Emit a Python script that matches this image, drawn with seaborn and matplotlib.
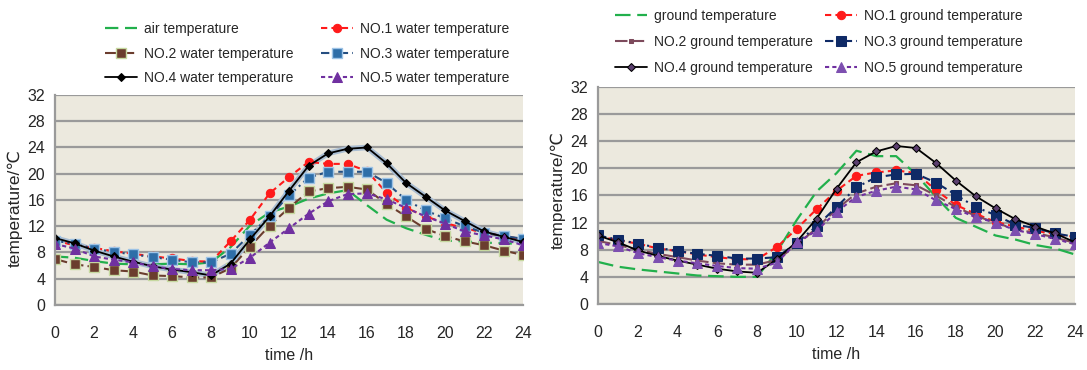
import matplotlib
matplotlib.use('agg')
import numpy as np
import matplotlib.pyplot as plt
import seaborn as sns

hours = list(range(25))

# left panel: air / water temperature
air_temp = [7.4, 7.2, 6.7, 6.3, 6.2, 6.2, 6.3, 6.2, 6.5, 8.8, 12.1, 14.1, 15.0, 16.2,
            17.0, 17.5, 15.2, 13.0, 11.7, 10.7, 9.8, 9.7, 9.5, 9.4, 9.3]
water1 = [9.8, 9.1, 8.7, 8.2, 7.8, 7.4, 7.1, 6.7, 6.6, 9.7, 13.0, 17.0, 19.5, 21.8,
          21.5, 21.5, 20.4, 17.1, 14.8, 13.5, 12.5, 11.7, 11.0, 10.5, 10.0]
water2 = [7.0, 6.2, 5.8, 5.3, 5.1, 4.5, 4.4, 4.2, 4.2, 5.6, 8.9, 12.1, 14.8, 17.3,
          17.8, 18.0, 17.6, 15.4, 13.5, 11.6, 10.5, 9.7, 9.1, 8.3, 7.6]
water3 = [9.8, 9.3, 8.6, 8.1, 7.7, 7.3, 6.9, 6.5, 6.5, 7.8, 10.7, 13.5, 16.7, 19.4,
          20.3, 20.3, 20.3, 18.6, 16.0, 14.4, 13.2, 12.0, 11.0, 10.5, 10.1]
water4 = [10.2, 9.4, 8.3, 7.4, 6.6, 5.9, 5.4, 5.0, 4.5, 6.3, 10.0, 13.5, 17.4, 21.2,
          23.1, 23.8, 24.0, 21.6, 18.6, 16.5, 14.4, 12.8, 11.2, 10.4, 9.6]
water5 = [9.3, 8.6, 7.4, 6.9, 6.5, 5.9, 5.5, 5.3, 5.3, 5.5, 7.2, 9.5, 11.7, 13.9,
          15.8, 16.9, 17.0, 16.1, 14.8, 13.5, 12.4, 11.2, 10.6, 10.0, 9.1]

# right panel: ground temperature
ground_temp = [6.2, 5.5, 5.1, 4.8, 4.5, 4.2, 4.1, 4.0, 4.0, 7.7, 12.4, 16.6, 19.3, 22.6,
               21.8, 21.8, 19.1, 15.8, 12.7, 11.4, 10.1, 9.5, 8.7, 8.2, 7.3]
ground1 = [10.0, 9.4, 8.9, 8.2, 7.8, 7.3, 6.9, 6.6, 6.6, 8.4, 11.1, 14.0, 16.7, 18.9,
           19.4, 19.7, 19.3, 16.8, 14.6, 13.3, 12.1, 11.4, 10.8, 10.3, 9.9]
ground2 = [9.3, 8.7, 8.0, 7.4, 6.9, 6.4, 6.0, 5.8, 5.8, 6.5, 8.7, 11.2, 14.0, 16.3,
           17.3, 17.8, 17.5, 16.0, 14.3, 13.0, 12.0, 11.0, 10.5, 9.8, 9.0]
ground3 = [10.1, 9.5, 8.9, 8.3, 7.8, 7.4, 7.1, 6.7, 6.7, 6.9, 9.0, 11.5, 14.3, 17.2,
           18.7, 19.1, 19.2, 17.9, 16.1, 14.3, 13.1, 11.7, 11.2, 10.4, 9.9]
ground4 = [10.1, 9.1, 7.9, 7.1, 6.4, 5.8, 5.2, 4.8, 4.6, 6.6, 9.2, 12.6, 17.0, 20.9,
           22.5, 23.3, 23.0, 20.8, 18.2, 15.9, 14.1, 12.5, 11.4, 10.4, 9.1]
ground5 = [9.0, 8.5, 7.5, 6.9, 6.4, 6.0, 5.6, 5.3, 5.2, 6.1, 9.1, 10.8, 13.6, 15.8,
           16.7, 17.3, 16.9, 15.3, 14.0, 12.8, 12.0, 10.9, 10.3, 9.6, 8.8]

sns.set_style("white")
plt.rcParams['font.family'] = ['Liberation Sans', 'DejaVu Sans']

fig = plt.figure(figsize=(10.87, 3.70), dpi=100)
ax1 = fig.add_axes([0.0506, 0.1757, 0.4306, 0.5676])
ax2 = fig.add_axes([0.5502, 0.1784, 0.4388, 0.5865])

green = '#22b04c'
red = '#ff1a1a'
purple = '#7030a0'


def style_axes(ax, lab_y):
    ax.set_facecolor('#ece9de')
    ax.set_xlim(0, 24)
    ax.set_ylim(0, 32)
    ax.set_xticks(range(0, 25, 2))
    ax.set_yticks(range(0, 33, 4))
    ax.grid(axis='y', color='#9a9a9a', lw=1.6)
    ax.set_axisbelow(True)
    for s in ['top', 'right']:
        ax.spines[s].set_visible(False)
    for s in ['left', 'bottom']:
        ax.spines[s].set_color('#9a9a9a')
        ax.spines[s].set_linewidth(1.6)
    ax.tick_params(axis='both', which='major', length=7, width=1.2, color='#9a9a9a',
                   labelsize=11.5, pad=8, direction='out')
    ax.tick_params(axis='y', pad=2, length=5)
    ax.set_xlabel('time /h', fontsize=11.5, labelpad=5)
    ax.set_ylabel('temperature/℃', fontsize=12.5)
    ax.yaxis.set_label_coords(-0.068, lab_y)


def place_legend(ax, x, y, colsp, lsp):
    h, l = ax.get_legend_handles_labels()
    order = [0, 2, 4, 1, 3, 5]
    ax.legend([h[i] for i in order], [l[i] for i in order], ncol=2, frameon=False,
              loc='upper left', bbox_to_anchor=(x, y), bbox_transform=fig.transFigure,
              fontsize=10, handlelength=2.3, handletextpad=0.5, columnspacing=colsp,
              labelspacing=lsp, borderpad=0, borderaxespad=0)


# ---- left panel ----
sns.lineplot(x=hours, y=air_temp, ax=ax1, color=green, lw=1.6, dashes=(6, 3),
             label='air temperature')
sns.lineplot(x=hours, y=water4, ax=ax1, color='#a9bdd2', lw=4, label='_nolegend_')
sns.lineplot(x=hours, y=water1, ax=ax1, color=red, lw=1.5, dashes=(3, 2), marker='o',
             ms=6, mec=red, label='NO.1 water temperature')
sns.lineplot(x=hours, y=water2, ax=ax1, color='#6b3d2e', lw=1.5, dashes=(6, 2), marker='s',
             ms=6.5, mec='#c6d9a0', mew=1, label='NO.2 water temperature')
sns.lineplot(x=hours, y=water3, ax=ax1, color='#254e80', lw=1.5, dashes=(4, 2, 1, 2), marker='s',
             ms=6.5, mfc='#2e6ea8', mec='#9dc3e6', mew=1, label='NO.3 water temperature')
sns.lineplot(x=hours, y=water4, ax=ax1, color='black', lw=1.3, marker='D', ms=4.5,
             mec='black', label='NO.4 water temperature')
sns.lineplot(x=hours, y=water5, ax=ax1, color=purple, lw=1.5, dashes=(2, 1.5), marker='^',
             ms=7, mec=purple, label='NO.5 water temperature')
style_axes(ax1, 0.46)
place_legend(ax1, 0.0966, 0.94, 2.0, 0.75)

# ---- right panel ----
sns.lineplot(x=hours, y=ground_temp, ax=ax2, color=green, lw=1.6, dashes=(7, 3),
             label='ground temperature')
sns.lineplot(x=hours, y=ground1, ax=ax2, color=red, lw=1.5, dashes=(3, 2), marker='o',
             ms=6, mec=red, label='NO.1 ground temperature')
sns.lineplot(x=hours, y=ground2, ax=ax2, color='#7d4a5c', lw=1.5, dashes=(6, 2), marker='s',
             ms=3.5, mec='#7d4a5c', label='NO.2 ground temperature')
sns.lineplot(x=hours, y=ground3, ax=ax2, color='#0f2a66', lw=1.5, dashes=(4, 2, 1, 2), marker='s',
             ms=7, mec='#0f2a66', label='NO.3 ground temperature')
sns.lineplot(x=hours, y=ground4, ax=ax2, color='black', lw=1.3, marker='D', ms=4.5,
             mfc='#5b3f6f', mec='black', label='NO.4 ground temperature')
sns.lineplot(x=hours, y=ground5, ax=ax2, color=purple, lw=1.5, dashes=(2, 1.5), marker='^',
             ms=7.5, mfc='#7d4fb0', mec='#7d4fb0', label='NO.5 ground temperature')
style_axes(ax2, 0.525)
place_legend(ax2, 0.5658, 0.975, 0.9, 0.85)

fig.savefig('out.png', dpi=100)
